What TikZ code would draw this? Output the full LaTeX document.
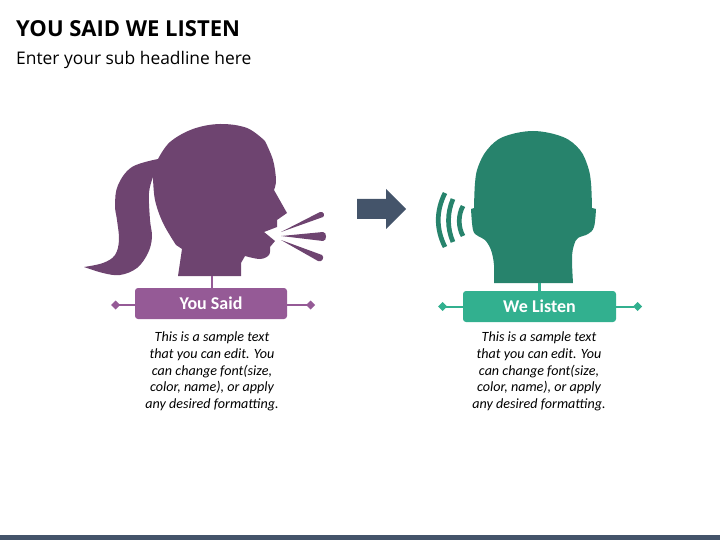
\documentclass[tikz,border=0pt]{standalone}
\usepackage{fontspec}
\setmainfont{Carlito}
\newfontfamily\headfont{Open Sans}
\usetikzlibrary{arrows.meta,positioning}
\definecolor{saiddark}{HTML}{6E4470}
\definecolor{saidlight}{HTML}{955A96}
\definecolor{listendark}{HTML}{27836C}
\definecolor{listenlight}{HTML}{32B08F}
\definecolor{slate}{HTML}{44546A}
\tikzset{
	-d/.style={-{Diamond[length=9pt,width=9pt]}},
	label box/.style={rectangle,rounded corners=3pt,text=white,font=\bfseries\fontsize{18}{20}\selectfont,inner sep=0pt},
	said box/.style={label box,fill=saidlight,minimum width=152pt,minimum height=31pt},
	listen box/.style={label box,fill=listenlight,minimum width=153pt,minimum height=31pt},
	sample/.style={align=center,font=\itshape\fontsize{14.1}{16.6}\selectfont,inner sep=0pt},
	wave/.style={draw=listendark,line width=4.7pt}
}
\begin{document}
\begin{tikzpicture}[x=1pt,y=-1pt]
	\useasboundingbox (0,0) rectangle (720,540);
	\node[anchor=west,inner sep=0pt,font=\headfont\bfseries\fontsize{22}{26}\selectfont] (title) at (16,29) {YOU SAID WE LISTEN};
	\node[anchor=west,inner sep=0pt,font=\headfont\fontsize{17.4}{20}\selectfont] (subtitle) at (16,60) {Enter your sub headline here};
	\fill[slate] (0,535) rectangle (720,540);
	% left head
	\fill[saiddark] (178,276) -- (182,249) -- (176,245)
		-- plot[smooth,tension=.6] coordinates {(176,245) (163,223) (155,200) (153,177)}
		-- plot[smooth,tension=.6] coordinates {(153,177) (149,193) (150,220) (152,237) (148,253) (137,268) (120,275) (103,273) (84,267)}
		-- plot[smooth,tension=.6] coordinates {(84,267) (103,263) (115,255) (119,240) (117,220) (115,205) (118,185) (132,167) (158,159)}
		-- plot[smooth,tension=.6] coordinates {(158,159) (170,142) (193,129) (220,124) (247,128) (265,141)}
		-- plot[smooth,tension=.6] coordinates {(265,141) (273,160) (276,180) (274,190)}
		-- (287,213) -- (277,220) -- (277,227) -- (264,232) -- (275,241) -- (270,247)
		-- plot[smooth,tension=.6] coordinates {(270,247) (269,255) (260,259) (245,256)}
		-- (241,263) -- (241,276) -- cycle;
	\fill[saiddark] (281,232) -- (320,212) .. controls (324,211) and (325,216) .. (323,217) -- cycle;
	\fill[saiddark] (281,236) -- (323,232) .. controls (327,232) and (327,241) .. (323,241) -- cycle;
	\fill[saiddark] (281,240) -- (322,255) .. controls (325,257) and (322,263) .. (318,261) -- cycle;
	% right head
	\fill[listendark] (494,283)
		-- plot[smooth,tension=.6] coordinates {(494,283) (494,265) (491,250) (485,240) (478,236) (473,230) (471,209)}
		-- (474,208)
		-- plot[smooth,tension=.6] coordinates {(474,208) (475,183) (478,167) (487,150) (503,137) (533,131) (563,137) (580,150) (588,167) (591,183) (592,208)}
		-- (596,209)
		-- plot[smooth,tension=.6] coordinates {(596,209) (594,227) (588,234) (578,238) (574,245) (572,258) (573,283)}
		-- cycle;
	\draw[wave] (445,193) .. controls (436,211) and (436,229) .. (445,247);
	\draw[wave] (453,199) .. controls (447,213) and (447,228) .. (453,242);
	\draw[wave] (463,206) .. controls (458,215) and (458,227) .. (463,236);
	% arrow
	\fill[slate] (357,199) -- (386,199) -- (386,189) -- (406,209) -- (386,229) -- (386,219) -- (357,219) -- cycle;
	% labels
	\node[said box] (said) at (211,303.5) {You Said};
	\node[listen box] (listen) at (539.5,306.5) {We Listen};
	\node[coordinate] (saidneck) at (212,276) {};
	\node[coordinate] (saidl) at (111,305) {};
	\node[coordinate] (saidr) at (315,305) {};
	\node[coordinate] (listenneck) at (539.5,283) {};
	\node[coordinate] (listenl) at (438,306.5) {};
	\node[coordinate] (listenr) at (642,306.5) {};
	\draw[saidlight,line width=2.5pt] (saidneck) -- (said.north -| saidneck);
	\draw[saidlight,line width=2pt,-d] (said.west |- saidl) -- (saidl);
	\draw[saidlight,line width=2pt,-d] (said.east |- saidr) -- (saidr);
	\draw[listenlight,line width=2.5pt] (listenneck) -- (listen.north);
	\draw[listenlight,line width=2pt,-d] (listen.west) -- (listenl);
	\draw[listenlight,line width=2pt,-d] (listen.east) -- (listenr);
	\node[sample,anchor=north] (saidtext) at (212,332) {This is a sample text\\that you can edit. You\\can change font(size,\\color, name), or apply\\any desired formatting.};
	\node[sample,anchor=north] (listentext) at (539,332) {This is a sample text\\that you can edit. You\\can change font(size,\\color, name), or apply\\any desired formatting.};
\end{tikzpicture}
\end{document}
